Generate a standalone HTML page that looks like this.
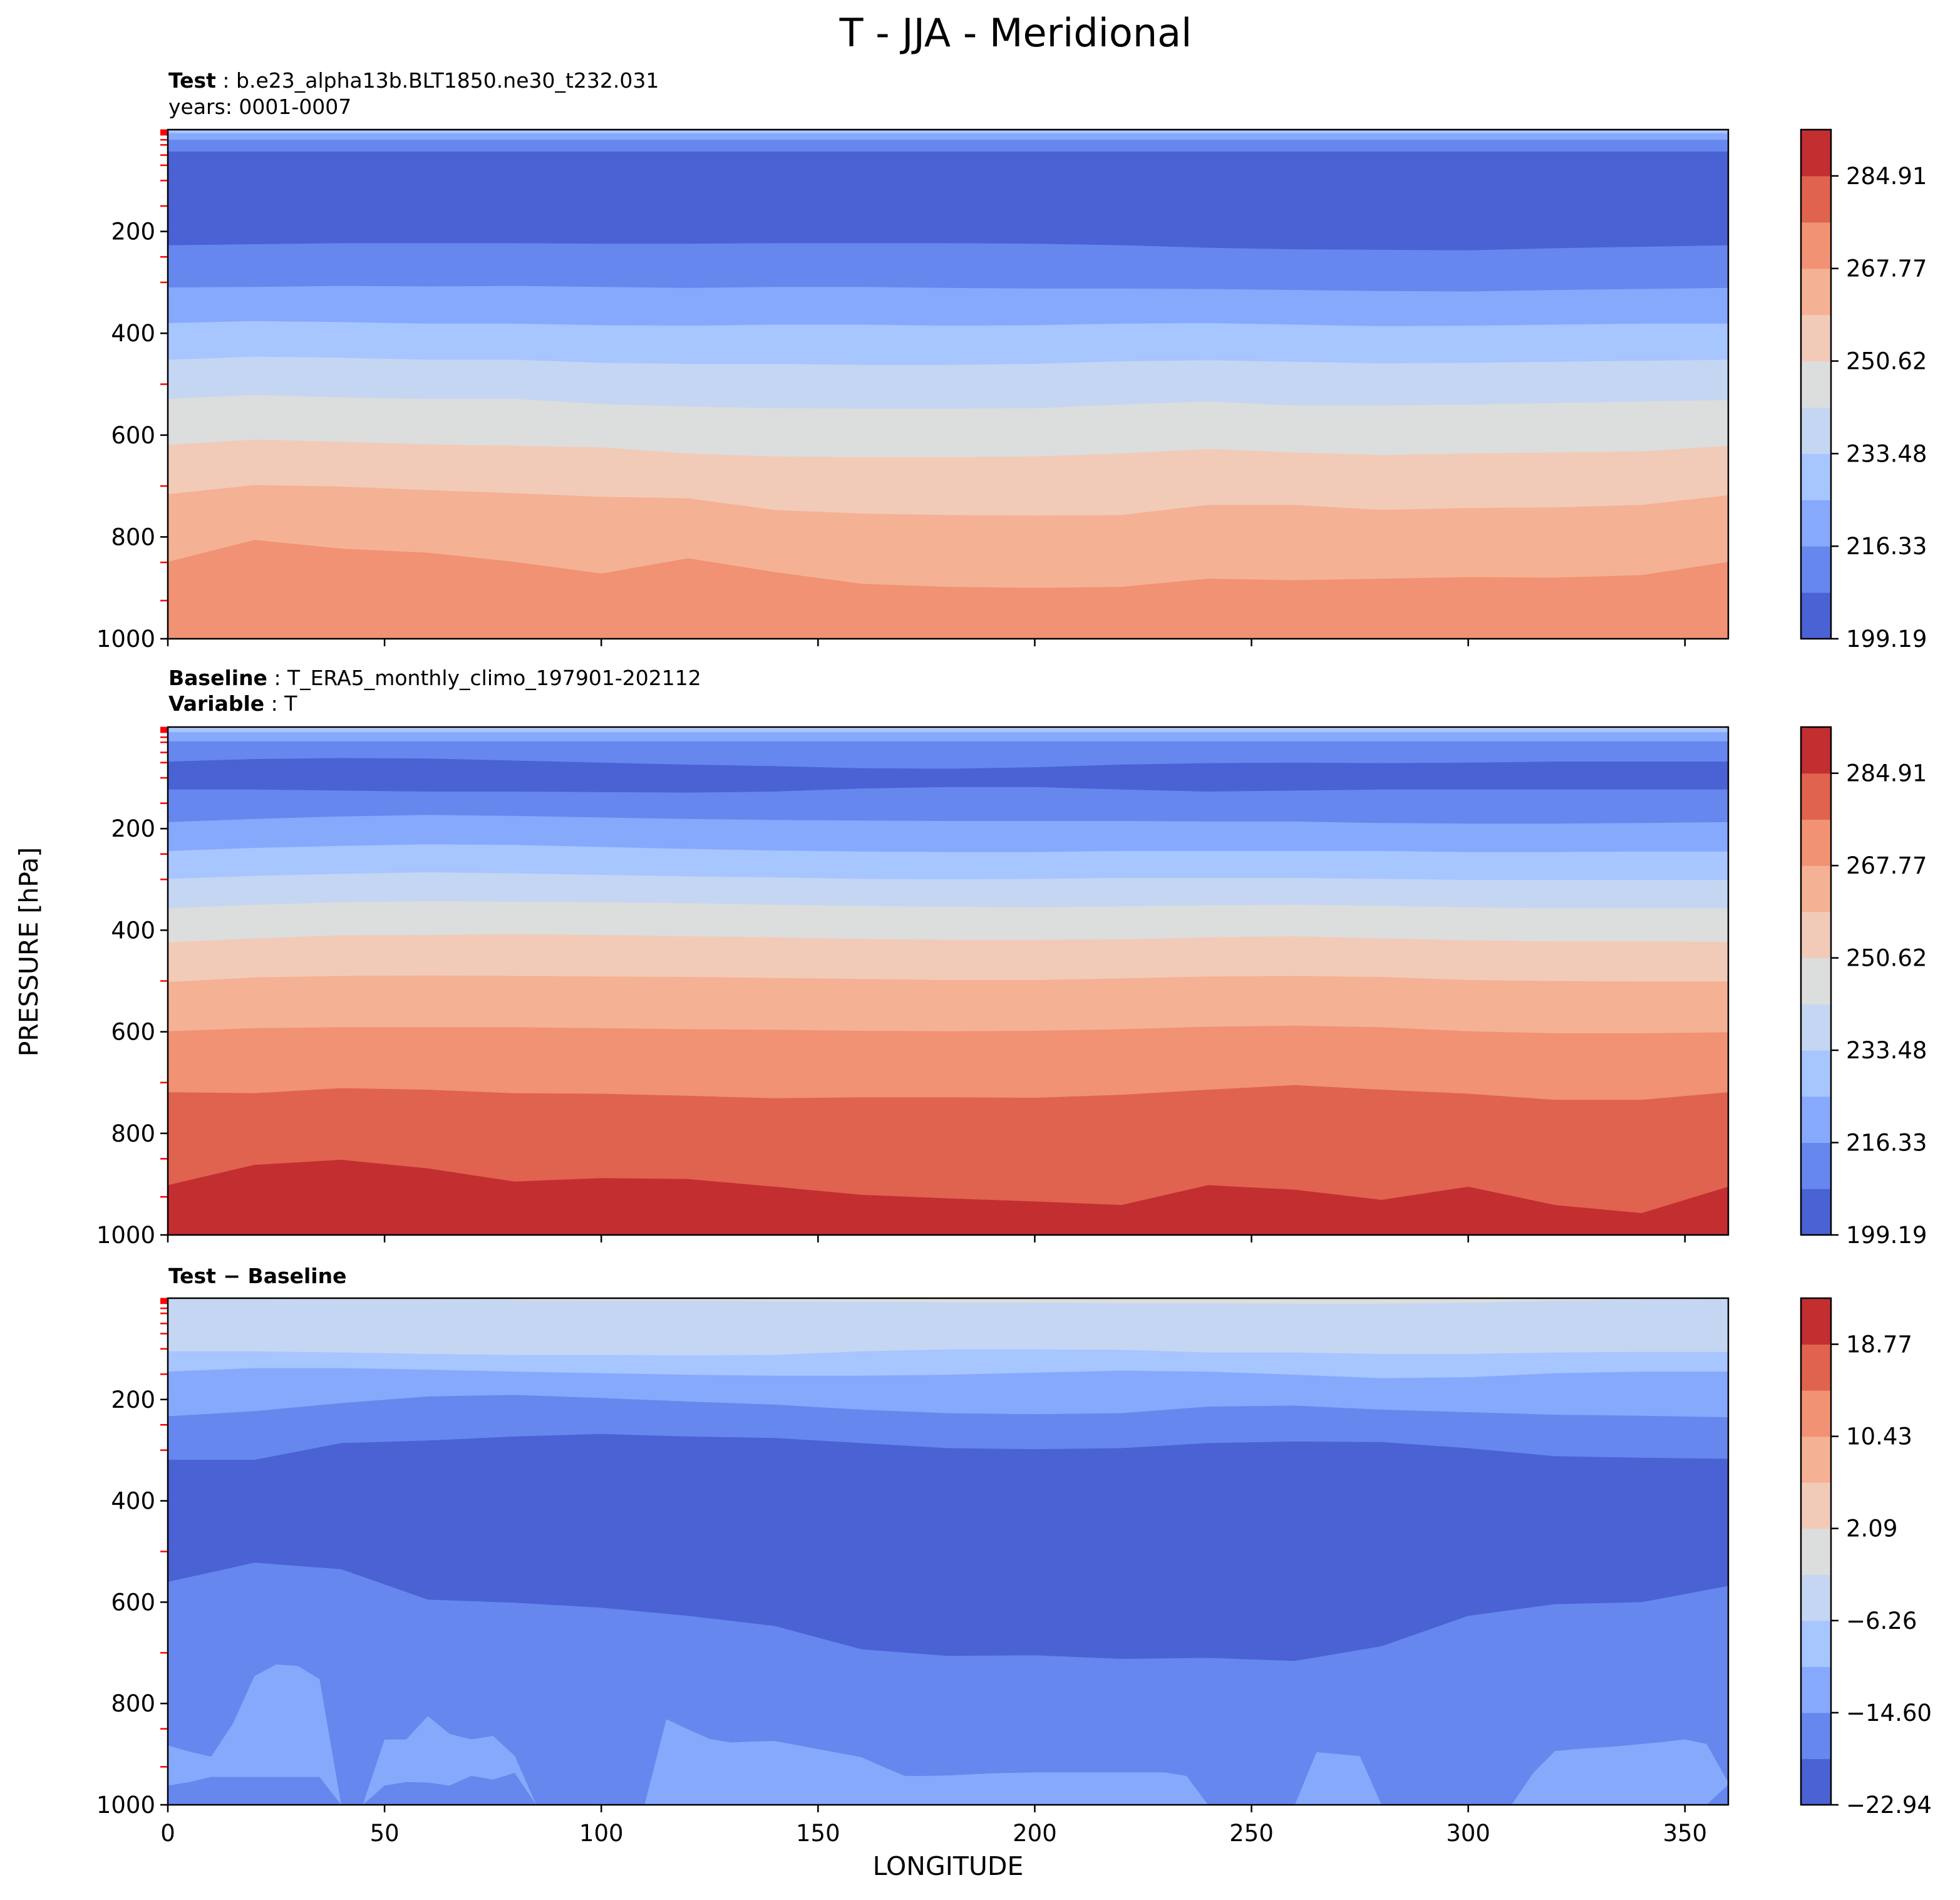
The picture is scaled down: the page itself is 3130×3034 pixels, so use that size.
<!DOCTYPE html>
<html>
<head>
<meta charset="utf-8">
<style>
  html,body{margin:0;padding:0;background:#fff;}
  svg{display:block;}
  text{font-family:"DejaVu Sans","Liberation Sans",sans-serif;fill:#000;}
</style>
</head>
<body>
<svg id="fig" xmlns="http://www.w3.org/2000/svg" width="3130" height="3034" viewBox="0 0 3130 3034">
  <rect x="0" y="0" width="3130" height="3034" fill="#fff"/>
  <text x="1622" y="74" font-size="62" text-anchor="middle">T - JJA - Meridional</text>
  <text x="269" y="140" font-size="33"><tspan font-weight="bold">Test</tspan> : b.e23_alpha13b.BLT1850.ne30_t232.031</text>
  <text x="269" y="182" font-size="33">years: 0001-0007</text>
  <text x="269" y="1094" font-size="33"><tspan font-weight="bold">Baseline</tspan> : T_ERA5_monthly_climo_197901-202112</text>
  <text x="269" y="1135" font-size="33"><tspan font-weight="bold">Variable</tspan> : T</text>
  <text x="269" y="2049" font-size="33" font-weight="bold">Test − Baseline</text>
  <text x="0" y="0" font-size="41" text-anchor="middle" transform="translate(60,1520) rotate(-90)">PRESSURE [hPa]</text>
  <text x="1514" y="2994" font-size="41" text-anchor="middle">LONGITUDE</text>
  <g id="plots"></g>
</svg>
<script>
// ---- shared data ----
const LON = [0,20,40,60,80,100,120,140,160,180,200,220,240,260,280,300,320,340,360];
const LON5 = [0,5,10,15,20,25,30,35,40,45,50,55,60,65,70,75,80,85,90,95,100,105,110,115,120,125,130,135,140,145,150,155,160,165,170,175,180,185,190,195,200,205,210,215,220,225,230,235,240,245,250,255,260,265,270,275,280,285,290,295,300,305,310,315,320,325,330,335,340,345,350,355,360];
const X_TICKS = [0,50,100,150,200,250,300,350];
const Y_TICKS = [200,400,600,800,1000];
const PLEV = [1,2,3,5,7,10,20,30,50,70,100,150,250,300,500,700,850,925];
const COLORS = ['#4a62d3','#6687ed','#87a9fc','#a7c5fe','#c5d6f2','#dcdddd','#f2cbb8','#f5b194','#f09273','#df634e','#c32e31'];

// ---- panel 1 (Test) boundary pressures (hPa) between colour bands ----
const T_BANDS = [3,2,1,0,1,2,3,4,5,6,7,8];
const T_B1 = LON.map(()=>7);
const T_B2 = LON.map(()=>20);
const T_B3 = LON.map(()=>43);
const T_B4 = [227,225,223,223,223,224,224,223,223,223,224,227,232,235,236,237,233,230,227];
const T_B5 = [310,309,307,308,307,309,311,309,309,311,312,312,313,315,317,318,315,313,311];
const T_B6 = [380,376,378,381,381,384,385,383,383,385,384,381,380,383,386,385,383,381,381];
const T_B7 = [452,446,448,452,452,458,460,460,462,462,460,455,453,456,459,458,456,454,452];
const T_B8 = [529,521,526,529,529,539,544,547,548,548,547,540,534,542,542,540,537,534,531];
const T_B9 = [619,609,613,618,621,624,636,642,643,643,642,636,627,634,639,636,634,632,621];
const T_B10 = [716,698,701,708,714,721,724,747,754,757,758,757,737,737,747,743,742,737,718];
const T_B11 = [849,806,823,831,849,872,842,869,892,898,900,898,882,885,882,879,880,875,849];

// ---- panel 2 (Baseline) ----
const B_BANDS = [4,3,2,1,0,1,2,3,4,5,6,7,8,9,10];
const B_B1 = LON.map(()=>3);
const B_B2 = LON.map(()=>10);
const B_B3 = LON.map(()=>28);
const B_B4 = [68,63,61,62,66,70,74,77,81,82,79,74,71,70,71,70,68,68,68];
const B_B5 = [123,123,125,127,127,128,129,127,121,118,118,123,127,125,123,123,123,123,123];
const B_B6 = [187,181,176,173,175,178,181,183,184,185,185,185,186,186,189,190,190,189,187];
const B_B7 = [244,238,234,231,232,236,240,243,245,246,246,244,244,244,244,246,246,245,245];
const B_B8 = [299,293,289,286,288,291,294,296,299,300,299,297,297,297,299,301,301,301,301];
const B_B9 = [357,350,345,343,344,345,347,350,352,354,355,353,351,350,352,355,357,357,357];
const B_B10 = [424,416,410,409,408,409,412,414,417,419,419,418,414,412,416,420,422,422,423];
const B_B11 = [502,493,490,489,490,491,492,494,496,498,498,495,491,490,492,498,500,501,501];
const B_B12 = [599,593,591,591,591,593,595,596,598,599,598,595,590,588,591,599,603,603,601];
const B_B13 = [719,721,711,714,721,722,726,731,729,729,730,724,714,705,714,722,734,734,719];
const B_B14 = [902,862,852,869,895,888,890,905,921,928,934,941,902,911,931,905,941,957,905];

// ---- panel 3 (Difference) ----
const D_BANDS = [5,4,3,2,1,0,1,2,1];
const D_B1 = [2,2,3,3,4,5,5,6,7,8,9,10,10,11,11,9,5,3,2];
const D_B2 = [105,105,107,110,112,112,113,112,105,101,101,102,107,107,110,110,107,106,106];
const D_B3 = [145,138,138,141,145,148,151,153,153,151,147,143,145,151,158,156,148,145,145];
const D_B4 = [233,223,207,194,191,197,204,210,220,227,229,227,214,212,220,225,230,232,235];
const D_B5 = [319,319,286,281,273,268,273,276,286,296,298,296,286,283,284,296,312,315,317];
const D_B6 = [560,522,535,595,601,611,627,647,693,706,705,712,710,716,687,627,604,600,568];
// light near-surface blobs (5° longitude resolution, LON5)
const D_B7 = [883,895,905,840,746,723,726,752,1000,1000,871,871,825,860,871,864,903,1000,1000,1000,1000,1000,1000,831,851,870,877,875,874,882,890,898,906,925,943,943,942,940,938,937,936,936,936,936,936,936,936,943,1000,1000,1000,1000,1000,896,900,904,1000,1000,1000,1000,1000,1000,1000,937,894,890,887,884,880,876,871,880,956];
const D_B8 = [962,955,945,945,945,945,945,945,1000,1000,962,955,956,962,943,950,937,1000,1000,1000,1000,1000,1000,1000,1000,1000,1000,1000,1000,1000,1000,1000,1000,1000,1000,1000,1000,1000,1000,1000,1000,1000,1000,1000,1000,1000,1000,1000,1000,1000,1000,1000,1000,1000,1000,1000,1000,1000,1000,1000,1000,1000,1000,1000,1000,1000,1000,1000,1000,1000,1000,1000,960];

// ---- colorbar levels ----
const T_LEVELS_MIN = 199.19, T_LEVELS_STEP = 8.572;
const T_CB_TICKS = ['199.19','216.33','233.48','250.62','267.77','284.91'];
const D_LEVELS_MIN = -22.94, D_LEVELS_STEP = 4.17;
const D_CB_TICKS = ['−22.94','−14.60','−6.26','2.09','10.43','18.77'];

const NS = 'http://www.w3.org/2000/svg';
const root = document.getElementById('plots');
const L = 268, R = 2760, W = R - L;
const CBX = 2876, CBW = 48;

function mk(tag, attrs, parent){
  const e = document.createElementNS(NS, tag);
  for (const k in attrs) e.setAttribute(k, attrs[k]);
  (parent||root).appendChild(e);
  return e;
}

function panel(name, T, B, bands, bounds, cbMin, cbStep, cbTicks, showXLabels){
  const H = B - T;
  const xs = lon => L + lon / 360 * W;
  const ys = p => T + p / 1000 * H;
  const g = mk('g', {});
  
  
  const clipId = name + '-clip';
  const cp = mk('clipPath', {id: clipId}, g);
  mk('rect', {x: L, y: T, width: W, height: H}, cp);
  const fills = mk('g', {'clip-path': 'url(#' + clipId + ')'}, g);
  const base = mk('rect', {x: L, y: T, width: W, height: H, fill: COLORS[bands[0]]}, fills);
  
  
  bounds.forEach((b, i) => {
    const lons = b.lons, arr = b.p;
    let d = 'M' + xs(lons[0]) + ',' + ys(1000);
    lons.forEach((lon, j) => { d += ' L' + xs(lon).toFixed(1) + ',' + ys(arr[j]).toFixed(1); });
    d += ' L' + xs(lons[lons.length-1]) + ',' + ys(1000) + ' Z';
    const path = mk('path', {d: d, fill: COLORS[bands[i+1]]}, fills);
    
    
  });
  PLEV.forEach(p => {
    const t = mk('line', {x1: L - 12, x2: L, y1: ys(p), y2: ys(p), stroke: '#ff0000', 'stroke-width': 2.5}, g);
    
    
  });
  Y_TICKS.forEach(p => {
    mk('line', {x1: L - 12, x2: L, y1: ys(p), y2: ys(p), stroke: '#000', 'stroke-width': 2.5}, g);
    const lbl = mk('text', {x: L - 20, y: ys(p) + 13, 'font-size': 37, 'text-anchor': 'end'}, g);
    lbl.textContent = p;
    
    
  });
  X_TICKS.forEach(v => {
    mk('line', {x1: xs(v), x2: xs(v), y1: B, y2: B + 12, stroke: '#000', 'stroke-width': 2.5}, g);
    if (showXLabels){
      const lbl = mk('text', {x: xs(v), y: B + 58, 'font-size': 37, 'text-anchor': 'middle'}, g);
      lbl.textContent = v;
      
      
    }
  });
  const frame = mk('rect', {x: L, y: T, width: W, height: H, fill: 'none', stroke: '#000', 'stroke-width': 2.5}, g);
  
  
  const cb = mk('g', {}, g);
  
  
  const n = COLORS.length;
  const cbMax = cbMin + n * cbStep;
  const cy = v => B - (v - cbMin) / (cbMax - cbMin) * H;
  COLORS.forEach((c, i) => {
    const y1 = cy(cbMin + (i+1) * cbStep), y0 = cy(cbMin + i * cbStep);
    const r = mk('rect', {x: CBX, y: y1, width: CBW, height: y0 - y1 + 0.5, fill: c}, cb);
    
    
  });
  mk('rect', {x: CBX, y: T, width: CBW, height: H, fill: 'none', stroke: '#000', 'stroke-width': 2.5}, cb);
  cbTicks.forEach((lab, i) => {
    const v = cbMin + i * 2 * cbStep;
    mk('line', {x1: CBX + CBW, x2: CBX + CBW + 12, y1: cy(v), y2: cy(v), stroke: '#000', 'stroke-width': 2.5}, cb);
    const t = mk('text', {x: CBX + CBW + 24, y: cy(v) + 13, 'font-size': 37}, cb);
    t.textContent = lab;
    
    
  });
}

const wrap = arrs => arrs.map(a => ({lons: LON, p: a}));

panel('test', 207, 1020, T_BANDS,
  wrap([T_B1,T_B2,T_B3,T_B4,T_B5,T_B6,T_B7,T_B8,T_B9,T_B10,T_B11]),
  T_LEVELS_MIN, T_LEVELS_STEP, T_CB_TICKS, false);
panel('baseline', 1161, 1972, B_BANDS,
  wrap([B_B1,B_B2,B_B3,B_B4,B_B5,B_B6,B_B7,B_B8,B_B9,B_B10,B_B11,B_B12,B_B13,B_B14]),
  T_LEVELS_MIN, T_LEVELS_STEP, T_CB_TICKS, false);
panel('diff', 2073, 2882, D_BANDS,
  wrap([D_B1,D_B2,D_B3,D_B4,D_B5,D_B6]).concat([{lons: LON5, p: D_B7}, {lons: LON5, p: D_B8}]),
  D_LEVELS_MIN, D_LEVELS_STEP, D_CB_TICKS, true);
</script>
</body>
</html>
